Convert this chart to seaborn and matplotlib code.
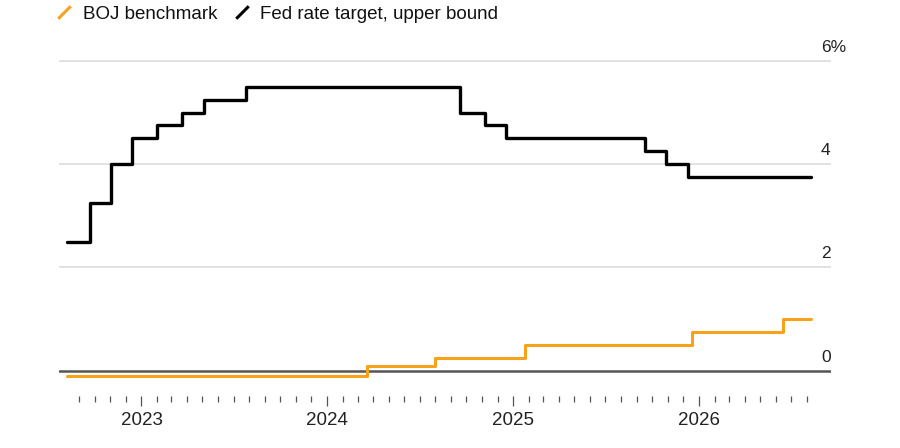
import pandas as pd
import matplotlib
matplotlib.use("Agg")
import matplotlib.pyplot as plt
import matplotlib.dates as mdates
import matplotlib.ticker as mticker
import matplotlib.transforms as mtransforms
from matplotlib.lines import Line2D
from matplotlib.path import Path
import seaborn as sns

# Data (policy rate changes, step-post)
fed_dates = ["2022-08-08", "2022-09-21", "2022-11-02", "2022-12-14", "2023-02-01",
             "2023-03-22", "2023-05-03", "2023-07-26", "2024-09-18", "2024-11-07",
             "2024-12-18", "2025-09-17", "2025-10-29", "2025-12-10", "2026-08-10"]
fed_rate = [2.5, 3.25, 4.0, 4.5, 4.75, 5.0, 5.25, 5.5, 5.0, 4.75, 4.5, 4.25, 4.0, 3.75, 3.75]

boj_dates = ["2022-08-08", "2024-03-19", "2024-07-31", "2025-01-24", "2025-12-19",
             "2026-06-16", "2026-08-10"]
boj_rate = [-0.1, 0.1, 0.25, 0.5, 0.75, 1.0, 1.0]

y_ticks = [0, 2, 4, 6]
y_labels = ["0", "2", "4", "6%"]

BOJ_COLOR = "#F8A21C"
FED_COLOR = "#000000"

sns.set_style("white")
plt.rcParams["font.family"] = ["Liberation Sans", "DejaVu Sans"]

fed_df = pd.DataFrame({"date": pd.to_datetime(fed_dates), "rate": fed_rate})
boj_df = pd.DataFrame({"date": pd.to_datetime(boj_dates), "rate": boj_rate})

fig = plt.figure(figsize=(9, 4.48), dpi=100)
ax = fig.add_axes([0.0656, 0.1161, 0.8574, 0.7536])

# Grid and zero line
for y in y_ticks[1:]:
    ax.axhline(y, color="#DCDCDC", lw=1.2, zorder=1)
ax.axhline(0, color="#555555", lw=1.8, zorder=2)

sns.lineplot(data=boj_df, x="date", y="rate", ax=ax, color=BOJ_COLOR, lw=2.2,
             drawstyle="steps-post", zorder=3)
sns.lineplot(data=fed_df, x="date", y="rate", ax=ax, color=FED_COLOR, lw=2.4,
             drawstyle="steps-post", zorder=4)

ax.set_xlim(pd.Timestamp("2022-07-23"), pd.Timestamp("2026-09-17"))
ax.set_ylim(-0.49, 6.05)
ax.set_xlabel("")
ax.set_ylabel("")
ax.set_yticks([])
for side in ["top", "right", "left", "bottom"]:
    ax.spines[side].set_visible(False)

# x axis: years major, months minor (Sep 2022 - Aug 2026)
months = pd.date_range("2022-09-01", "2026-08-01", freq="MS")
ax.xaxis.set_major_locator(mdates.YearLocator())
ax.xaxis.set_major_formatter(mdates.DateFormatter("%Y"))
ax.xaxis.set_minor_locator(mticker.FixedLocator(mdates.date2num(months)))
ax.tick_params(axis="x", which="both", bottom=True, direction="out", color="#555555")
ax.tick_params(axis="x", which="major", length=7, width=0.9,
               labelsize=13.5, labelcolor="#222222", pad=4.5)
ax.tick_params(axis="x", which="minor", length=4, width=0.9)

# y labels sitting above the gridlines on the right
trans = mtransforms.offset_copy(ax.get_yaxis_transform(), fig=fig, y=6.5, units="points")
for y, lab in zip(y_ticks, y_labels):
    ax.text(0.9874, y, lab, transform=trans, ha="left", va="baseline",
            fontsize=12.5, color="#222222")

# Legend with slash icons
slash = Path([(-1, -1), (1, 1)])
handles = [
    Line2D([], [], color=BOJ_COLOR, marker=slash, linestyle="None",
           markersize=9, markeredgewidth=2.2),
    Line2D([], [], color=FED_COLOR, marker=slash, linestyle="None",
           markersize=9, markeredgewidth=2.2),
]
fig.legend(handles, ["BOJ benchmark", "Fed rate target, upper bound"],
           loc="upper left", bbox_to_anchor=(0.042, 1.025), ncol=2, frameon=False,
           fontsize=13.5, handlelength=1.0, handletextpad=0.5, columnspacing=0.8,
           labelcolor="#111111")

fig.savefig("out.png", dpi=100)
